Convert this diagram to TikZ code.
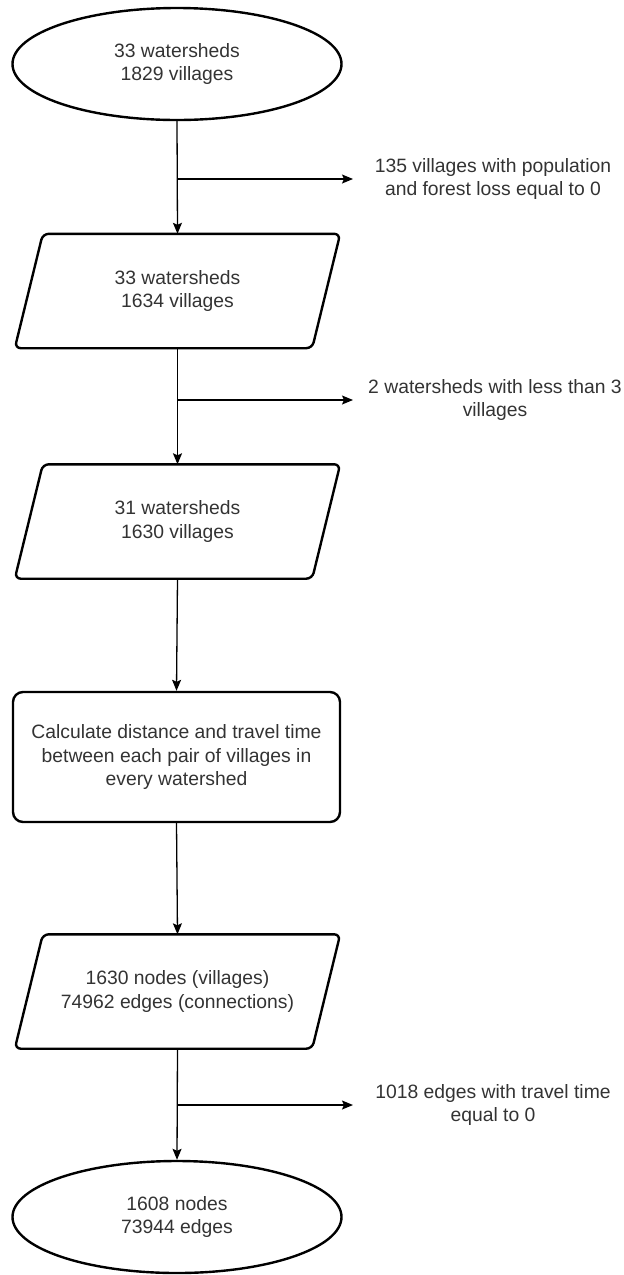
\documentclass[tikz,border=0pt]{standalone}
\usepackage{fontspec}
\setmainfont{Liberation Sans}
\usetikzlibrary{shapes.geometric,arrows.meta}
\begin{document}
\begin{tikzpicture}[>={Stealth[length=11bp,width=9bp,inset=2bp]}, x=1bp, y=-1bp,
  every node/.style={font=\fontsize{19.4}{23.3}\selectfont, text=black!80, align=center},
  term/.style={draw=black, line width=2.4bp, ellipse, minimum width=329bp, minimum height=112bp, inner sep=0pt},
  data/.style={rectangle, minimum width=297bp, minimum height=114bp, inner sep=0pt},
  databorder/.style={draw=black, line width=2.4bp, rounded corners=6bp},
  proc/.style={draw=black, line width=2.4bp, rectangle, rounded corners=10bp, minimum width=327bp, minimum height=130bp, inner sep=0pt},
  link/.style={line width=1.3bp}]
\useasboundingbox (0,0) rectangle (624,1275);

\node(W1)[term] at (177,64) {33 watersheds\\1829 villages};
\node(W2)[data] at (177.5,291) {33 watersheds\\1634 villages};
\node(W3)[data] at (177.5,521.5) {31 watersheds\\1630 villages};
\node(Calc)[proc] at (176.5,757) {Calculate distance and travel time\\between each pair of villages in\\every watershed};
\node(Net1)[data] at (177.5,991.5) {1630 nodes (villages)\\74962 edges (connections)};
\node(Net2)[term] at (177,1217) {1608 nodes\\73944 edges};

% slanted borders of the data boxes
\foreach \n in {W2,W3,Net1}
  \draw[databorder] ([xshift=-14bp]\n.south west) -- ([xshift=14bp]\n.north west)
    -- ([xshift=14bp]\n.north east) -- ([xshift=-14bp]\n.south east) -- cycle;

\node(Out1) at (493,179) {135 villages with population\\and forest loss equal to 0};
\node(Out2) at (495,400) {2 watersheds with less than 3\\villages};
\node(Out3) at (493,1105) {1018 edges with travel time\\equal to 0};

\coordinate(J1) at (177,179);
\coordinate(K1) at (353,179);
\coordinate(J2) at (177,400);
\coordinate(K2) at (353,400);
\coordinate(J3) at (177,1105);
\coordinate(K3) at (353,1105);

\draw[link] (W1.south) edge[->] (W2.north);
\draw[link] (W2.south) edge[->] (W3.north);
\draw[link] (W3.south) edge[->] (Calc.north);
\draw[link] (Calc.south) edge[->] (Net1.north);
\draw[link] (Net1.south) edge[->] (Net2.north);
\draw[link] (J1) edge[->] (K1);
\draw[link] (J2) edge[->] (K2);
\draw[link] (J3) edge[->] (K3);
\end{tikzpicture}
\end{document}
